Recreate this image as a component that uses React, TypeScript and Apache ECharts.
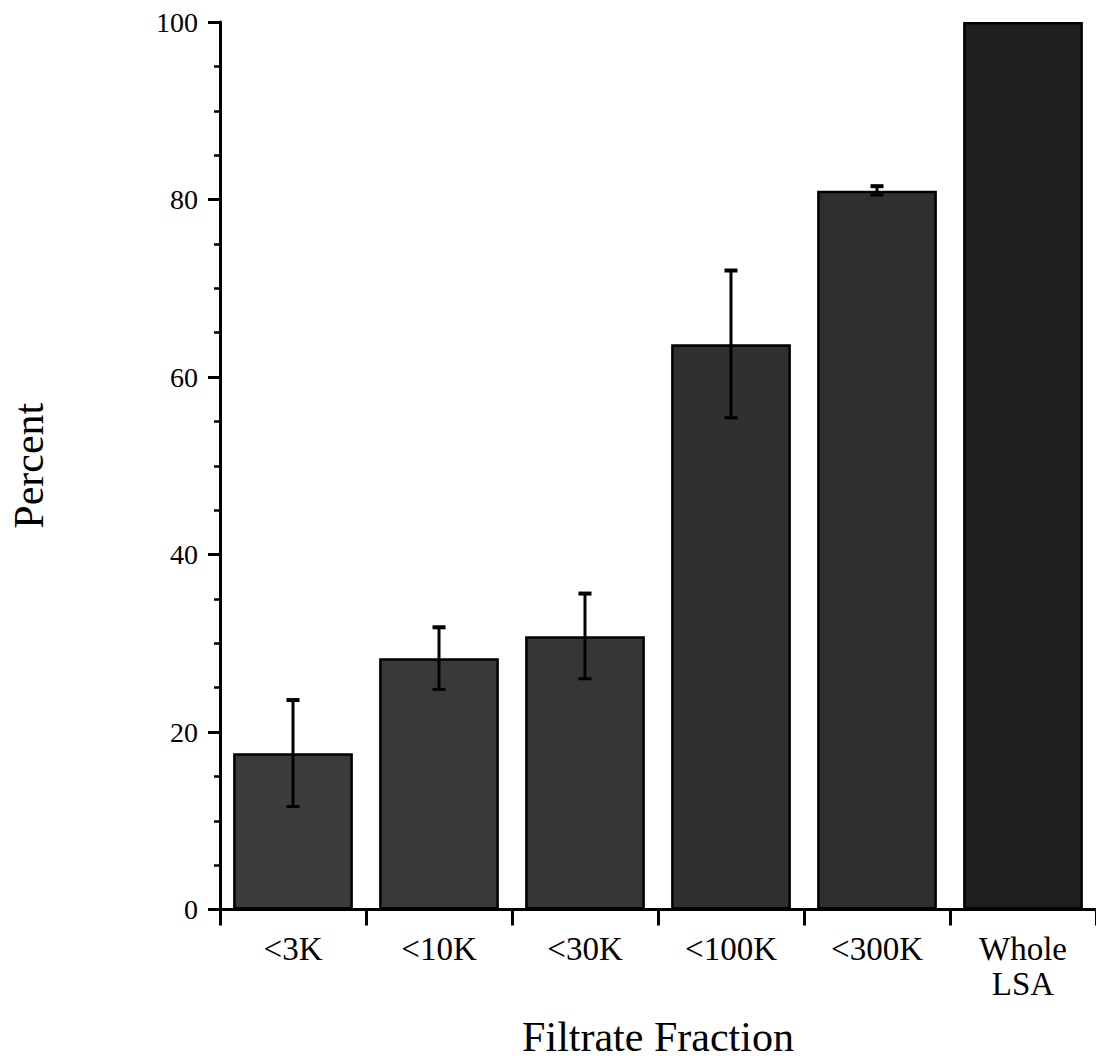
import React, { useEffect, useRef } from "react";
import * as echarts from "echarts";

const categories = ["<3K", "<10K", "<30K", "<100K", "<300K", "Whole\nLSA"];
const percentValues = [17.6, 28.3, 30.8, 63.7, 81.0, 100];
const errorValues = [6.0, 3.5, 4.8, 8.3, 0.5, 0];
const barColors = ["#3c3c3c", "#393939", "#363636", "#303030", "#2f2f2f", "#1f1f1f"];
const yTicks = [0, 20, 40, 60, 80, 100];

const FONT = "'Liberation Serif', 'Times New Roman', serif";

export default function App() {
  const ref = useRef<HTMLDivElement>(null);

  useEffect(() => {
    if (!ref.current) return;
    const chart = echarts.init(ref.current, undefined, { renderer: "svg" });

    const errData = percentValues
      .map((v, i) => [i, v - errorValues[i], v + errorValues[i], errorValues[i]])
      .filter((d) => d[3] > 0);

    chart.setOption({
      animation: false,
      backgroundColor: "#ffffff",
      grid: { left: 218, top: 22, width: 880, height: 887.5, containLabel: false },
      xAxis: {
        type: "category",
        data: categories,
        boundaryGap: true,
        name: "Filtrate Fraction",
        nameLocation: "middle",
        nameGap: 106,
        nameTextStyle: { fontFamily: FONT, fontSize: 42, color: "#000" },
        axisLine: { show: true, lineStyle: { color: "#000", width: 3 } },
        axisTick: { show: true, length: 16, alignWithLabel: false, lineStyle: { color: "#000", width: 3 } },
        axisLabel: {
          fontFamily: FONT,
          fontSize: 33,
          color: "#000",
          margin: 22,
          lineHeight: 35,
          interval: 0,
        },
        splitLine: { show: false },
      },
      yAxis: {
        type: "value",
        min: yTicks[0],
        max: yTicks[yTicks.length - 1],
        interval: 20,
        name: "Percent",
        nameLocation: "middle",
        nameGap: 170,
        nameRotate: 90,
        nameTextStyle: { fontFamily: FONT, fontSize: 42, color: "#000" },
        axisLine: { show: true, lineStyle: { color: "#000", width: 3 } },
        axisTick: { show: true, inside: false, length: 12, lineStyle: { color: "#000", width: 3 } },
        minorTick: { show: true, splitNumber: 4, length: 6, lineStyle: { color: "#000", width: 2.5 } },
        axisLabel: { fontFamily: FONT, fontSize: 28, color: "#000", margin: 22 },
        splitLine: { show: false },
        minorSplitLine: { show: false },
      },
      series: [
        {
          type: "bar",
          barWidth: "82%",
          data: percentValues.map((v, i) => ({
            value: v,
            itemStyle: { color: barColors[i], borderColor: "#000", borderWidth: 2.5 },
          })),
          z: 2,
        },
        {
          type: "custom",
          data: errData,
          encode: { x: 0, y: [1, 2] },
          z: 5,
          renderItem: (params: any, api: any) => {
            const idx = api.value(0);
            const lo = api.coord([idx, api.value(1)]);
            const hi = api.coord([idx, api.value(2)]);
            const half = 6.5;
            return {
              type: "group",
              children: [
                {
                  type: "line",
                  shape: { x1: hi[0], y1: hi[1], x2: lo[0], y2: lo[1] },
                  style: { stroke: "#000", lineWidth: 3 },
                },
                {
                  type: "line",
                  shape: { x1: hi[0] - half, y1: hi[1], x2: hi[0] + half, y2: hi[1] },
                  style: { stroke: "#000", lineWidth: 4 },
                },
                {
                  type: "line",
                  shape: { x1: lo[0] - half, y1: lo[1], x2: lo[0] + half, y2: lo[1] },
                  style: { stroke: "#000", lineWidth: 3 },
                },
              ],
            };
          },
        },
      ],
    });

    return () => {
      chart.dispose();
    };
  }, []);

  return (
    <div
      ref={ref}
      style={{ position: "fixed", left: 0, top: 0, width: 1096, height: 1064, background: "#fff" }}
    />
  );
}
